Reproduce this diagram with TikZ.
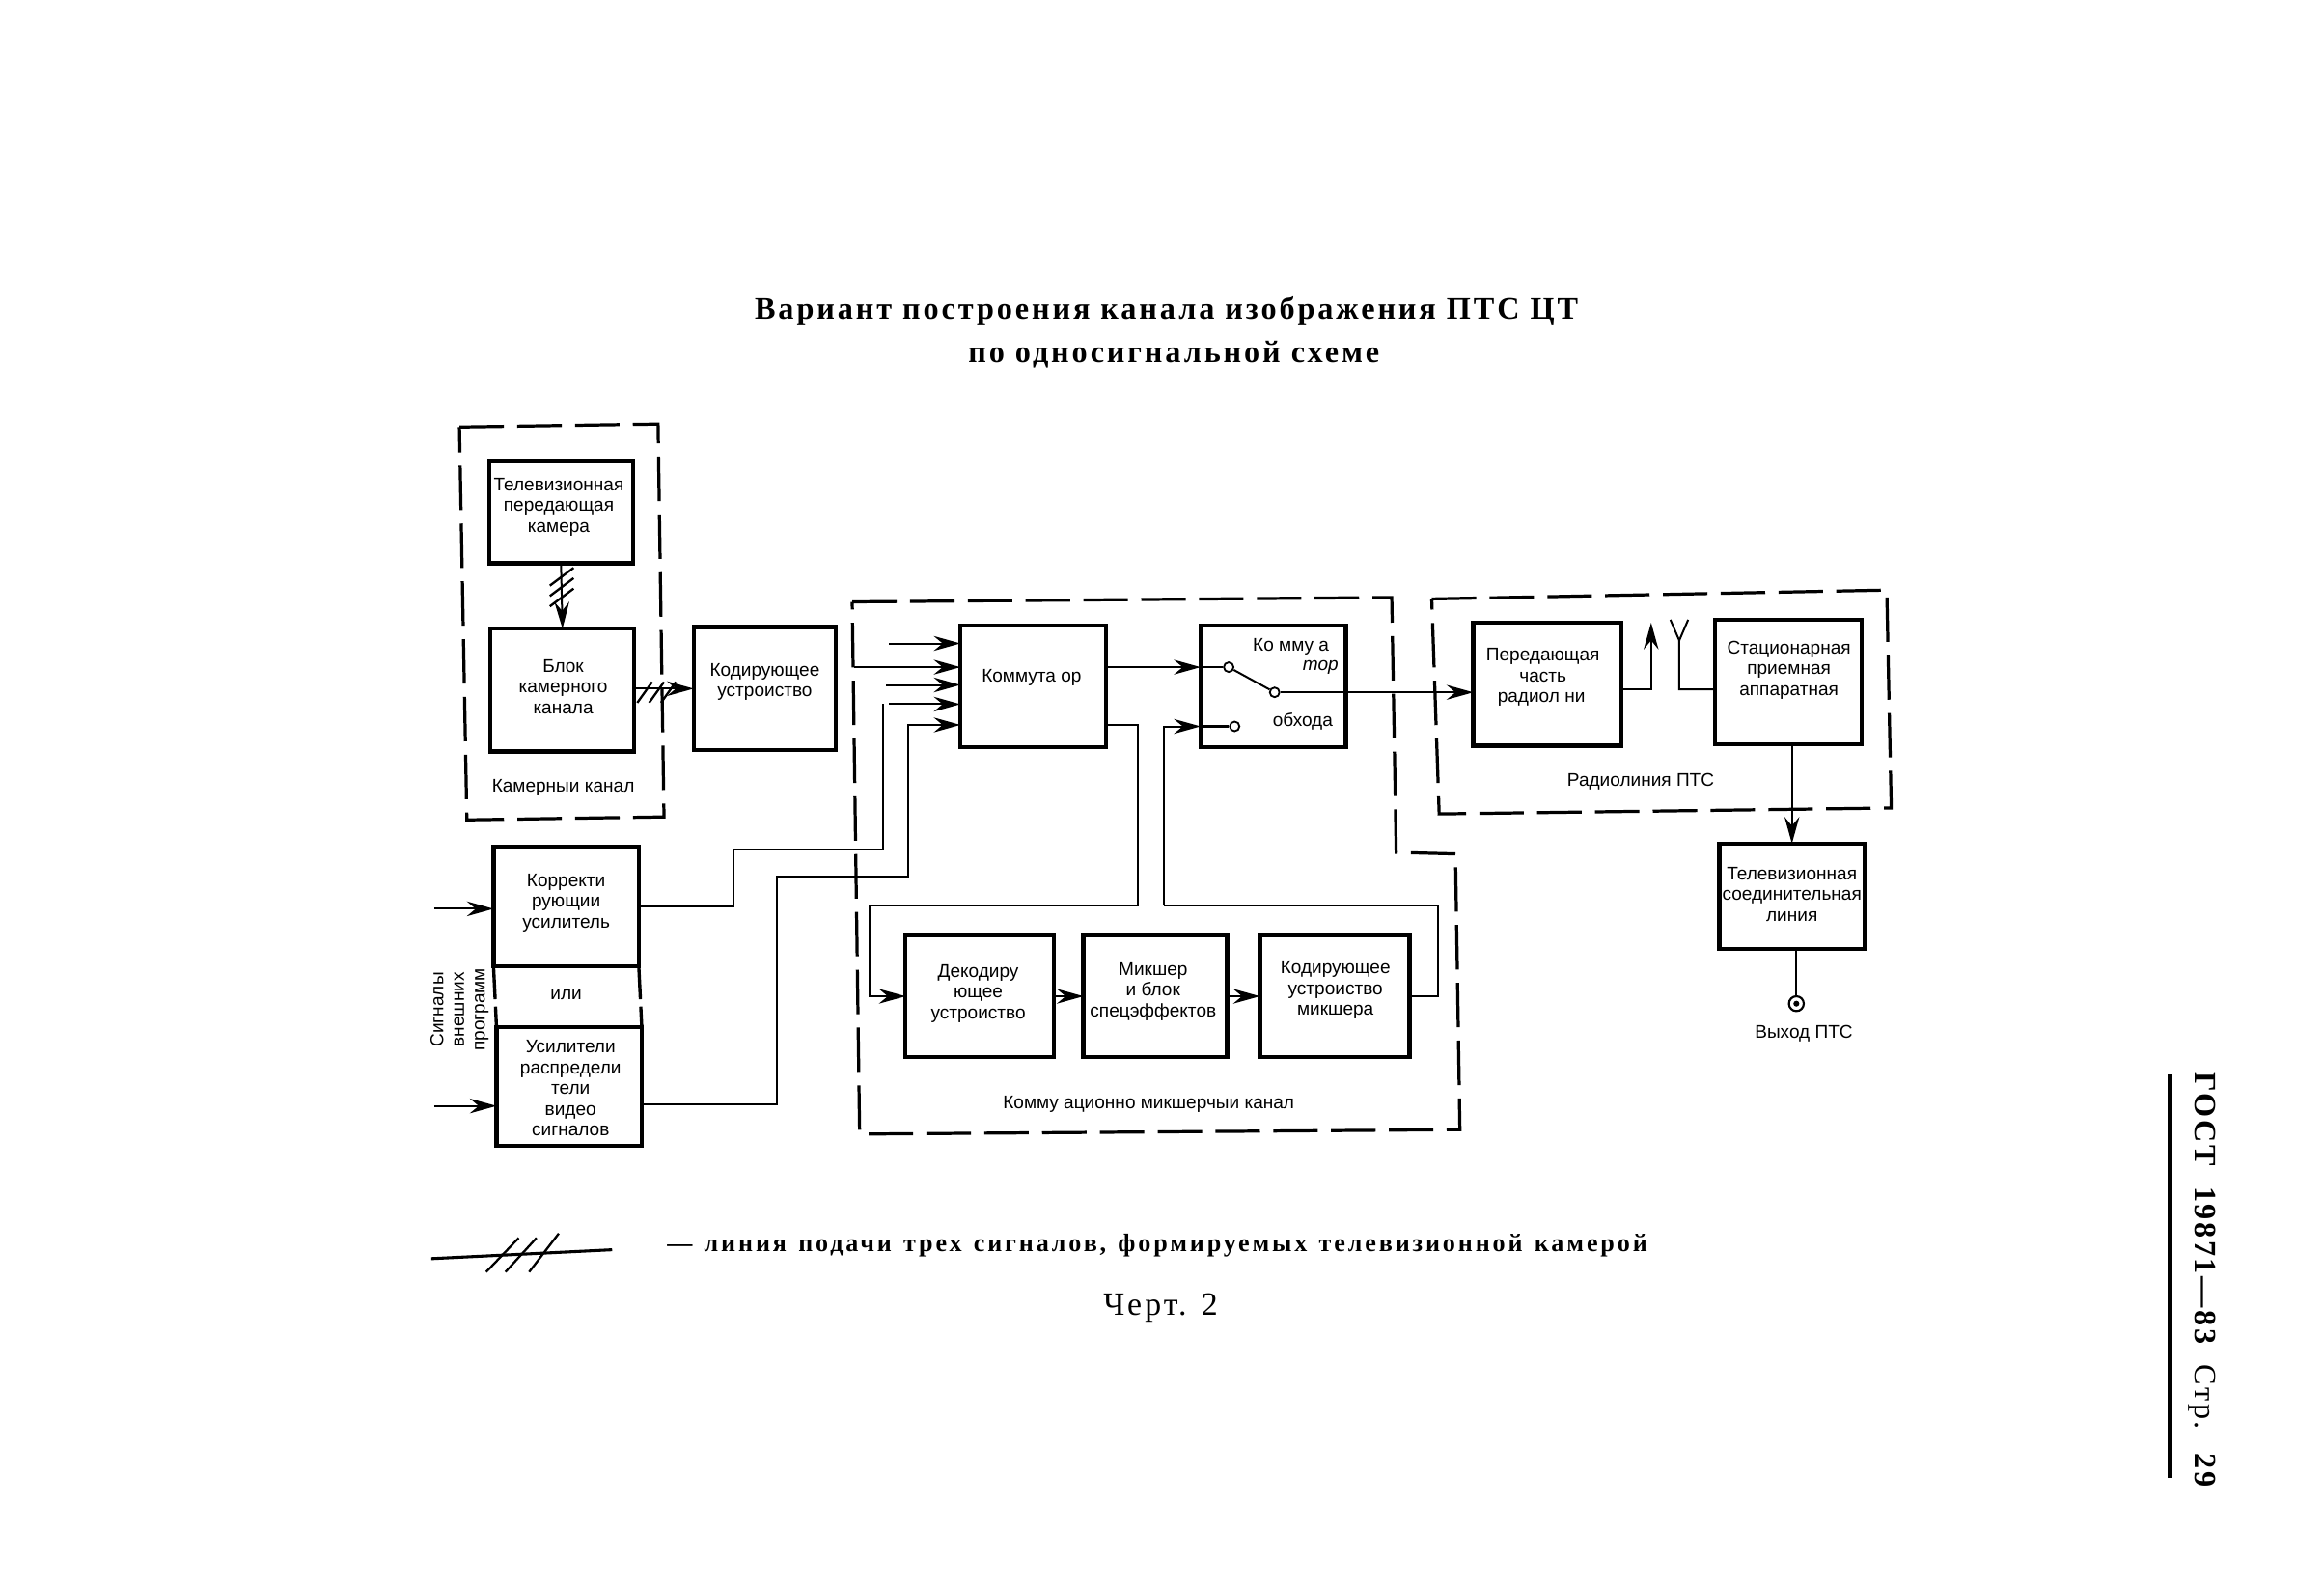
\documentclass[tikz,border=0pt]{standalone}
\usepackage{fontspec}
\setmainfont{Liberation Sans}
\newfontfamily\ttlfont[LetterSpace=9]{Liberation Serif}
\newfontfamily\legfont[LetterSpace=11,WordSpace=1.3]{Liberation Serif}
\newfontfamily\gostfont[LetterSpace=8,WordSpace=2]{Liberation Serif}
\usetikzlibrary{arrows.meta,calc}
\tikzset{
  blockbox/.style={draw=black,line width=2.8pt,inner sep=0pt,outer sep=0pt,anchor=north west},
  lab/.style={font=\fontsize{12.4}{14}\selectfont,align=center,inner sep=0pt,text=black},
  frame/.style={draw=black,line width=2.1pt,dash pattern=on 30pt off 9pt,line join=miter},
  conn/.style={draw=black,line width=1.3pt,line join=miter},
  arr/.style={conn,-{Stealth[length=18pt,width=10pt,inset=6pt]}},
  tick/.style={draw=black,line width=1.5pt},
  contact/.style={circle,draw=black,fill=white,line width=1.2pt,minimum size=6.5pt,inner sep=0pt},
}
\newcommand{\blk}[5]{\node[blockbox,minimum width=#4-#2,minimum height=#5-#3] (#1) at (#2,#3) {};}
\begin{document}
\begin{tikzpicture}[x=1pt,y=-1pt]
\useasboundingbox (0,0) rectangle (1568,1071);
% title
\node[font={\ttlfont\bfseries\fontsize{21}{25}\selectfont},inner sep=0pt] (t1) at (787,210) {Вариант построения канала изображения ПТС ЦТ};
\node[font={\ttlfont\bfseries\fontsize{21}{25}\selectfont},inner sep=0pt] (t2) at (792,239) {по односигнальной схеме};
% frames
\draw[frame] (310,288) -- (444,286) -- (448,551) -- (315,553) -- cycle;
\draw[frame] (575,406) -- (939,403) -- (942,575) -- (982,576) -- (985,762) -- (580,765) -- cycle;
\draw[frame] (966,404) -- (1273,398) -- (1276,545) -- (971,549) -- cycle;
% blocks
\blk{cam}{330}{311}{427}{380}
\blk{bcc}{331}{424}{428}{507}
\blk{enc}{468}{423}{564}{506}
\blk{kom}{648}{422}{746}{504}
\blk{swi}{810}{422}{908}{504}
\blk{tra}{994}{420}{1094}{503}
\blk{rec}{1157}{418}{1256}{502}
\blk{tvl}{1160}{569}{1258}{640}
\blk{am1}{333}{571}{431}{652}
\blk{am2}{335}{693}{433}{773}
\blk{dec}{611}{631}{711}{713}
\blk{mix}{731}{631}{828}{713}
\blk{en2}{850}{631}{951}{713}
\draw[conn,line width=2.2pt,dash pattern=on 22pt off 5pt] (am1.south west) -- (am2.north west);
\draw[conn,line width=2.2pt,dash pattern=on 22pt off 5pt] (am1.south east) -- (am2.north east);
% labels
\node[lab] (lcam) at (377,342) {Телевизионная\\передающая\\камера};
\node[lab] (lbcc) at (380,463) {Блок\\камерного\\канала};
\node[lab] (lenc) at (516,460) {Кодирующее\\устроиство};
\node[lab] (lkom) at (696,457) {Коммута ор};
\node[lab] (lsw1) at (871,436) {Ко мму а};
\node[lab,font=\fontsize{12.4}{14}\selectfont\itshape] (lsw2) at (891,450) {тор};
\node[lab] (lsw3) at (879,487) {обхода};
\node[lab] (ltra) at (1041,457) {Передающая\\часть\\радиол  ни\,};
\node[lab] (lrec) at (1207,452) {Стационарная\\приемная\\аппаратная};
\node[lab] (ltvl) at (1209,603) {Телевизионная\\соединительная\\линия};
\node[lab] (lam1) at (382,609) {Корректи\\рующии\\усилитель};
\node[lab] (lili) at (382,671) {или};
\node[lab] (lam2) at (385,734) {Усилители\\распредели\\тели\\видео\\сигналов};
\node[lab] (ldec) at (660,670) {Декодиру\\ющее\\устроиство};
\node[lab] (lmix) at (778,669) {Микшер\\и блок\\спецэффектов};
\node[lab] (len2) at (901,668) {Кодирующее\\устроиство\\микшера};
\node[lab] (lcch) at (380,531) {Камерныи канал};
\node[lab] (lmch) at (775,745) {Комму ационно микшерчыи канал};
\node[lab] (lrad) at (1107,527) {Радиолиния ПТС};
\node[lab] (lout) at (1217,697) {Выход ПТС};
\node[lab,rotate=90] (lext) at (310,681) {Сигналы\\внешних\\программ};
% contacts
\node[contact] (c1) at (829,450) {};
\node[contact] (c2) at (860,467) {};
\node[contact] (c3) at (833,490) {};
\draw[conn] (c1) -- (c2);
% free coordinates
\coordinate (i1) at (600,434);
\coordinate (i2) at (576,450);
\coordinate (i3) at (598,462);
\coordinate (i4) at (596,475);
\coordinate (i4b) at (600,475);
\coordinate (i5) at (613,489);
\coordinate (r1) at (495,573);
\coordinate (r2) at (524,591);
\coordinate (r3) at (0,745);
\coordinate (r4) at (768,611);
\coordinate (r5) at (587,611);
\coordinate (r6) at (970,611);
\coordinate (r7) at (785,611);
\coordinate (e1) at (293,613);
\coordinate (e2) at (293,746);
\coordinate (antJ) at (1133,432);
\coordinate (antL) at (1127,418);
\coordinate (antR) at (1139,418);
\coordinate (antB) at (1133,465);
\coordinate (atip) at (1114,420);
\coordinate (atur) at (1114,465);
\coordinate (rx) at (1209,502);
\node[circle,draw=black,line width=1.4pt,minimum size=10pt,inner sep=0pt] (out) at (1212,677) {};
\fill (out.center) circle (2pt);
% connectors
\draw[arr] (cam.south) -- (bcc.north);
\draw[arr] (bcc.east |- enc.east) -- (enc.west);
\foreach \s in {0,7,14}{\draw[tick] ($(379,\s+389)+(-8,6)$) -- ++(16,-12);}
\foreach \s in {0,8,16}{\draw[tick] ($(\s+435,467)+(-5,7)$) -- ++(10,-14);}
\draw[arr] (i1) -- (kom.west |- i1);
\draw[arr] (i2) -- (kom.west |- i2);
\draw[arr] (i3) -- (kom.west |- i3);
\draw[arr] (i4b) -- (kom.west |- i4b);
\draw[conn] (am1.east) -| (r1) -| (i4);
\draw[arr] (am2.east |- r3) -| (r2) -| (i5) -- (kom.west |- i5);
\draw[arr] (kom.east |- c1) -- (swi.west |- c1);
\draw[conn] (swi.west |- c1) -- (c1);
\draw[arr] (c2) -- (tra.west |- c2);
\draw[conn] (kom.east |- i5) -| (r4) -- (r5);
\draw[arr] (r5) |- (dec.west);
\draw[arr] (dec.east) -- (mix.west);
\draw[arr] (mix.east) -- (en2.west);
\draw[conn] (en2.east |- dec.west) -| (r6) -- (r7);
\draw[arr] (r7) |- (swi.west |- c3);
\draw[conn,line width=2pt] (swi.west |- c3) -- (c3);
\draw[arr] (e1) -- (am1.west |- e1);
\draw[arr] (e2) -- (am2.west |- e2);
\draw[arr] (tra.east |- atur) -- (atur) -- (atip);
\draw[conn] (rec.west |- antB) -- (antB) -- (antJ) -- (antL);
\draw[conn] (antJ) -- (antR);
\draw[arr] (rx) -- (tvl.north -| rx);
\draw[conn] (out.north |- tvl.south) -- (out.north);
% legend
\coordinate (l1) at (291,849);
\coordinate (l2) at (413,843);
\draw[conn,line width=2pt] (l1) -- (l2);
\draw[tick] (328,858) -- (350,835);
\draw[tick] (341,858) -- (362,835);
\draw[tick] (357,858) -- (377,832);
\node[font={\legfont\bfseries\fontsize{17}{20}\selectfont},anchor=west,inner sep=0pt] (leg) at (450,840) {— линия подачи трех сигналов, формируемых телевизионной камерой};
\node[font=\ttlfont\fontsize{22}{26}\selectfont,inner sep=0pt] (chert) at (783,882) {Черт. 2};
% margin
\coordinate (m1) at (1464,725);
\coordinate (m2) at (1464,997);
\draw[draw=black,line width=3pt] (m1) -- (m2);
\node[rotate=-90,font={\gostfont\bfseries\fontsize{21}{24}\selectfont},inner sep=0pt] (gost) at (1486,863) {ГОСТ 19871—83 {\mdseries Стр.} 29};
\end{tikzpicture}
\end{document}
